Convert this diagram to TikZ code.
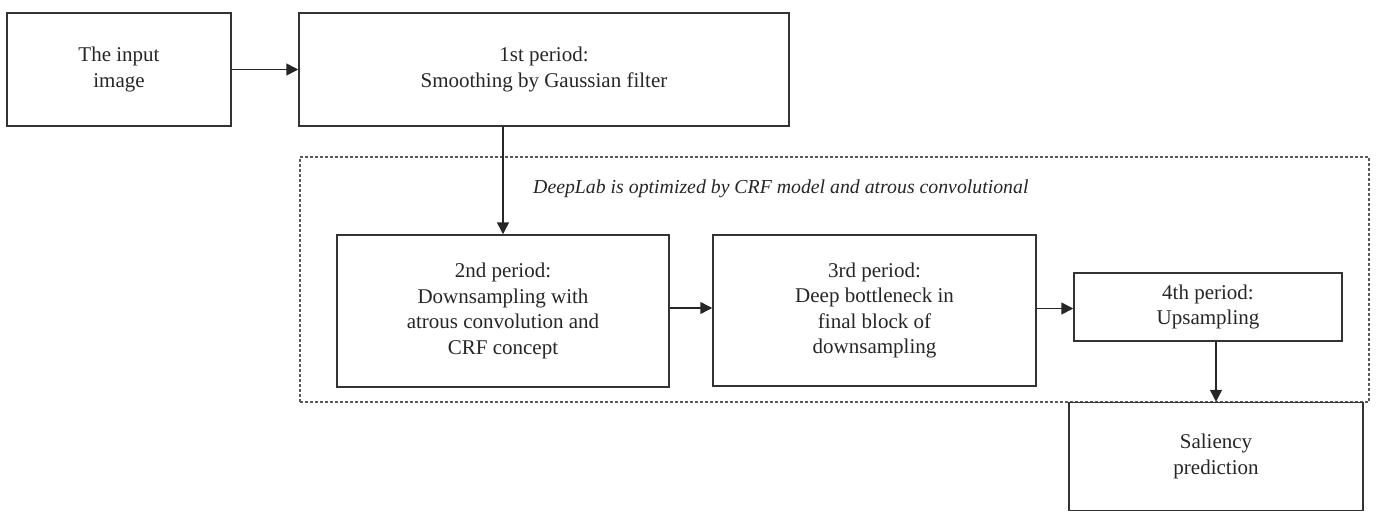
\documentclass[tikz,border=0pt]{standalone}
\usepackage{fontspec}
\setmainfont{Liberation Serif}
\usetikzlibrary{arrows.meta}
\begin{document}
\begin{tikzpicture}[x=1pt,y=-1pt,
 txt/.style={text=black!85, font=\fontsize{21}{25.5}\selectfont},
 box/.style={txt, draw=black!80, line width=1.5pt, inner sep=0pt, align=center},
 conn/.style={draw=black!85, line width=1.5pt, -{Triangle[length=12pt,width=12pt]}},
 grp/.style={draw=black!65, line width=1.2pt, dash pattern=on 3pt off 2pt, inner sep=0pt}]
\useasboundingbox (0,0) rectangle (1376,512);
\node[grp, minimum width=1069pt, minimum height=245pt] (g) at (834.5,279.5) {};
\node[box, minimum width=224pt, minimum height=113pt] (a) at (119,69.5) {The input\\image};
\node[box, minimum width=490pt, minimum height=113pt] (b) at (544,69.5) {1st period:\\Smoothing by Gaussian filter};
\node[txt, font=\fontsize{19.8}{24}\selectfont\itshape, inner sep=0pt, anchor=base west] (lbl) at (533,193) {DeepLab is optimized by CRF model and atrous convolutional};
\node[box, minimum width=332pt, minimum height=152pt] (c) at (503,311) {2nd period:\\Downsampling with\\atrous convolution and\\CRF concept};
\node[box, minimum width=323pt, minimum height=151pt] (d) at (874.5,310.5) {3rd period:\\Deep bottleneck in\\final block of\\downsampling};
\node[box, minimum width=268pt, minimum height=68pt] (e) at (1208,307) {4th period:\\Upsampling};
\node[box, minimum width=294pt, minimum height=108pt] (f) at (1216,456.5) {Saliency\\prediction};
\draw[conn] (a.east) -- (b.west);
\draw[conn] (b.south -| c.north) -- (c.north);
\draw[conn] ([yshift=3pt]c.east) -- ([yshift=3pt]c.east -| d.west);
\draw[conn] ([yshift=2pt]d.east) -- ([yshift=2pt]d.east -| e.west);
\draw[conn] (e.south -| f.north) -- (f.north);
\end{tikzpicture}
\end{document}
